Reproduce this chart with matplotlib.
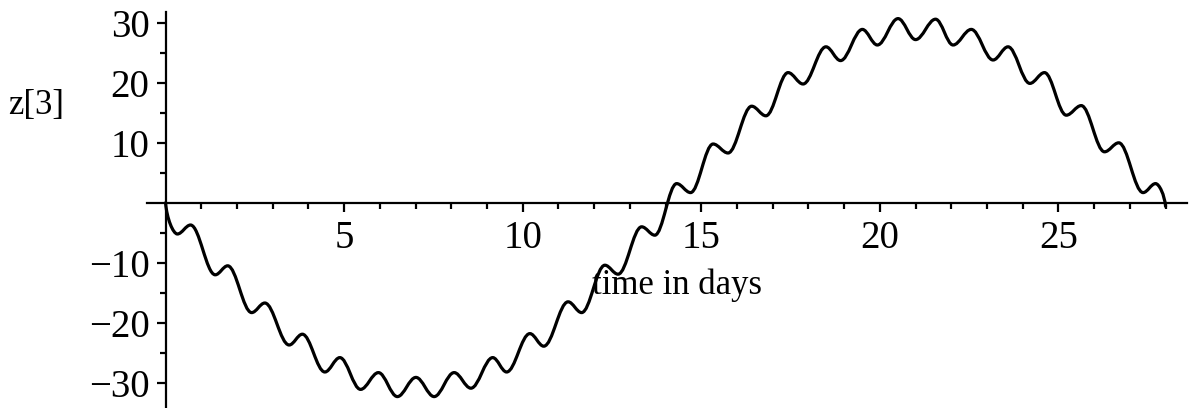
import matplotlib
matplotlib.use('Agg')
import matplotlib.pyplot as plt
from matplotlib.path import Path
from matplotlib.patches import PathPatch

# turning points of the curve (time in days, z[3])
t_days = [0.00, 0.33, 0.70, 1.39, 1.74, 2.41, 2.78, 3.46, 3.83, 4.46, 4.88,
          5.46, 5.96, 6.49, 7.01, 7.52, 8.08, 8.55, 9.16, 9.55, 10.20, 10.59,
          11.27, 11.65, 12.30, 12.67, 13.33, 13.70, 14.31, 14.70, 15.33, 15.75,
          16.41, 16.81, 17.43, 17.85, 18.49, 18.90, 19.51, 19.93, 20.51, 21.00,
          21.56, 22.05, 22.56, 23.17, 23.59, 24.20, 24.61, 25.22, 25.64, 26.29,
          26.69, 27.37, 27.72, 28.00]
z3 = [0.0, -5.2, -3.7, -12.0, -10.5, -18.3, -16.7, -23.7, -21.9, -28.2, -25.8,
      -31.1, -28.3, -32.3, -29.1, -32.3, -28.3, -30.9, -25.8, -28.2, -21.8, -23.9,
      -16.5, -18.3, -10.4, -11.9, -4.0, -5.4, 3.2, 1.7, 9.8, 8.3,
      16.1, 14.5, 21.7, 19.8, 26.0, 23.7, 28.9, 26.3, 30.7, 27.2,
      30.6, 26.3, 28.9, 23.8, 26.0, 19.9, 21.7, 14.6, 16.2, 8.5,
      10.0, 1.7, 3.2, -0.6]

x_major = [5, 10, 15, 20, 25]
x_minor = list(range(1, 29))
y_major = [-30, -20, -10, 10, 20, 30]
y_minor = [-25, -15, -5, 5, 15, 25]

plt.rcParams['font.family'] = ['Liberation Serif', 'DejaVu Serif']

fig = plt.figure(figsize=(11.94, 4.08), dpi=100)
ax = fig.add_axes([147 / 1194, 0, 1040 / 1194, 396 / 408])

# smooth curve: horizontal tangents at each turning point, chord direction at the ends
a = 0.36
verts = [(t_days[0], z3[0])]
codes = [Path.MOVETO]
n = len(t_days)
for i in range(n - 1):
    t0, z0 = t_days[i], z3[i]
    t1, z1 = t_days[i + 1], z3[i + 1]
    dt = t1 - t0
    if i == 0:
        c1 = (t0 + 0.1 * dt, z0 + 0.5 * (z1 - z0))
    else:
        c1 = (t0 + a * dt, z0)
    if i == n - 2:
        c2 = (t1 - 0.1 * dt, z1 - 0.5 * (z1 - z0))
    else:
        c2 = (t1 - a * dt, z1)
    verts += [c1, c2, (t1, z1)]
    codes += [Path.CURVE4] * 3
ax.add_patch(PathPatch(Path(verts, codes), fill=False, edgecolor='k',
                       linewidth=2.3, capstyle='round', joinstyle='round'))

ax.set_xlim(-0.52, 28.6)
ax.set_ylim(-34.2, 31.8)

for s in ['top', 'right']:
    ax.spines[s].set_visible(False)
ax.spines['left'].set_position(('data', 0))
ax.spines['bottom'].set_position(('data', 0))
ax.spines['left'].set_linewidth(1.6)
ax.spines['bottom'].set_linewidth(1.6)

ax.set_xticks(x_major)
ax.set_xticks(x_minor, minor=True)
ax.set_yticks(y_major)
ax.set_yticks(y_minor, minor=True)
ax.tick_params(axis='both', which='major', direction='out', length=6.5, width=1.6)
ax.tick_params(axis='both', which='minor', direction='out', length=4, width=1.6)
ax.tick_params(axis='x', labelsize=28, pad=6)
ax.tick_params(axis='y', labelsize=28, pad=5)

ax.set_xlabel('time in days', fontsize=25, va='center', ha='center')
ax.xaxis.set_label_coords(0.51, 0.31)
ax.set_ylabel('z[3]', fontsize=25, rotation=0, va='center', ha='center')
ax.yaxis.set_label_coords(-0.107, 0.763)

fig.savefig('out.png', dpi=100)
